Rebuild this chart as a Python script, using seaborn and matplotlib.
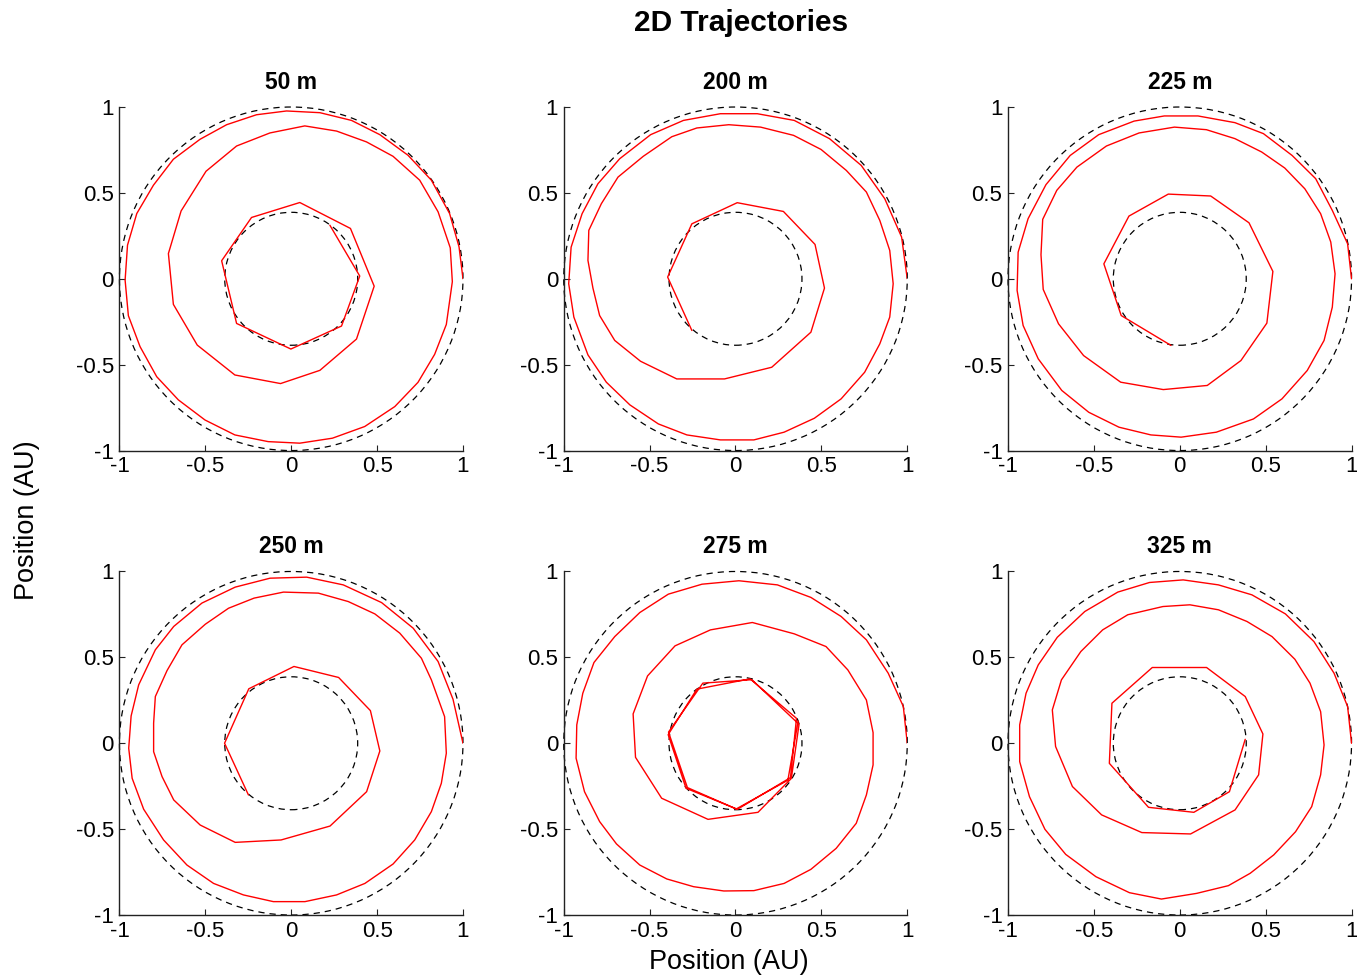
import matplotlib
matplotlib.use('Agg')
import matplotlib.pyplot as plt
from matplotlib.patches import Circle
import seaborn as sns

# Titulos de cada panel y datos comunes
titles = ['50 m', '200 m', '225 m', '250 m', '275 m', '325 m']
orbit_radii = [1.0, 0.387]  # orbitas de referencia (AU)
ticks = [-1, -0.5, 0, 0.5, 1]
tick_labels = ['-1', '-0.5', '0', '0.5', '1']

# Trayectorias (AU)
x_50 = [1.000, 0.977, 0.922, 0.816, 0.680, 0.516, 0.351, 0.167, -0.027, -0.202, -0.376, -0.531, -0.686, -0.802, -0.899, -0.953,
        -0.967, -0.948, -0.880, -0.783, -0.657, -0.502, -0.328, -0.134, 0.050, 0.240, 0.428, 0.603, 0.738, 0.835, 0.903, 0.938,
        0.926, 0.855, 0.748, 0.593, 0.438, 0.264, 0.079, -0.124, -0.318, -0.496, -0.641, -0.715, -0.686, -0.547, -0.328, -0.062,
        0.167, 0.380, 0.483, 0.345, 0.050, -0.231, -0.405, -0.318, -0.002, 0.293, 0.399, 0.225]
y_50 = [0.000, 0.186, 0.380, 0.574, 0.719, 0.839, 0.922, 0.967, 0.977, 0.955, 0.897, 0.812, 0.696, 0.545, 0.380, 0.196,
        -0.008, -0.215, -0.395, -0.570, -0.705, -0.822, -0.909, -0.948, -0.957, -0.928, -0.860, -0.744, -0.603, -0.440, -0.266, -0.017,
        0.180, 0.390, 0.574, 0.713, 0.797, 0.860, 0.890, 0.849, 0.773, 0.626, 0.395, 0.147, -0.149, -0.386, -0.560, -0.610,
        -0.533, -0.351, -0.043, 0.293, 0.444, 0.357, 0.105, -0.260, -0.409, -0.275, 0.016, 0.312]

x_200 = [1.000, 0.967, 0.869, 0.732, 0.547, 0.342, 0.127, -0.088, -0.303, -0.494, -0.674, -0.801, -0.893, -0.957, -0.971, -0.941,
         -0.859, -0.752, -0.615, -0.449, -0.283, -0.088, 0.107, 0.283, 0.459, 0.615, 0.752, 0.840, 0.898, 0.918, 0.898, 0.840,
         0.762, 0.645, 0.498, 0.338, 0.146, -0.039, -0.225, -0.371, -0.537, -0.684, -0.781, -0.854, -0.859, -0.830, -0.791, -0.703,
         -0.553, -0.342, -0.064, 0.211, 0.439, 0.518, 0.463, 0.279, 0.010, -0.254, -0.395, -0.254]
y_200 = [0.000, 0.243, 0.466, 0.660, 0.816, 0.922, 0.961, 0.961, 0.922, 0.839, 0.699, 0.553, 0.379, 0.184, -0.029, -0.223,
         -0.443, -0.602, -0.734, -0.845, -0.909, -0.938, -0.938, -0.893, -0.812, -0.699, -0.544, -0.379, -0.223, -0.029, 0.165, 0.340,
         0.505, 0.631, 0.753, 0.835, 0.883, 0.897, 0.878, 0.827, 0.713, 0.592, 0.437, 0.282, 0.107, -0.054, -0.214, -0.359,
         -0.480, -0.583, -0.583, -0.515, -0.311, -0.054, 0.200, 0.392, 0.443, 0.320, 0.010, -0.301]

x_225 = [1.000, 0.977, 0.888, 0.791, 0.654, 0.487, 0.321, 0.106, -0.090, -0.266, -0.472, -0.638, -0.779, -0.883, -0.941, -0.947,
         -0.912, -0.824, -0.687, -0.530, -0.354, -0.168, 0.008, 0.213, 0.429, 0.595, 0.742, 0.840, 0.888, 0.904, 0.879, 0.820,
         0.728, 0.611, 0.477, 0.321, 0.155, -0.031, -0.237, -0.427, -0.599, -0.716, -0.798, -0.808, -0.795, -0.706, -0.560, -0.344,
         -0.096, 0.160, 0.356, 0.507, 0.542, 0.403, 0.180, -0.067, -0.296, -0.442, -0.341, -0.051]
y_225 = [0.000, 0.204, 0.398, 0.583, 0.718, 0.845, 0.909, 0.948, 0.948, 0.918, 0.839, 0.718, 0.548, 0.350, 0.155, -0.068,
         -0.272, -0.466, -0.650, -0.777, -0.864, -0.909, -0.922, -0.893, -0.816, -0.699, -0.534, -0.359, -0.165, 0.029, 0.214, 0.379,
         0.524, 0.645, 0.738, 0.816, 0.868, 0.883, 0.849, 0.773, 0.650, 0.515, 0.346, 0.140, -0.062, -0.262, -0.447, -0.602,
         -0.645, -0.621, -0.476, -0.258, 0.043, 0.326, 0.482, 0.493, 0.365, 0.087, -0.214, -0.388]

x_250 = [1.000, 0.942, 0.855, 0.710, 0.526, 0.303, 0.090, -0.123, -0.326, -0.520, -0.684, -0.791, -0.888, -0.932, -0.946, -0.926,
         -0.859, -0.743, -0.607, -0.452, -0.278, -0.104, 0.080, 0.264, 0.429, 0.593, 0.719, 0.816, 0.874, 0.903, 0.893, 0.816,
         0.758, 0.632, 0.487, 0.332, 0.158, -0.045, -0.216, -0.365, -0.500, -0.636, -0.723, -0.791, -0.801, -0.801, -0.752, -0.684,
         -0.530, -0.326, -0.059, 0.226, 0.439, 0.516, 0.461, 0.276, 0.016, -0.247, -0.388, -0.249]
y_250 = [0.000, 0.256, 0.476, 0.670, 0.819, 0.922, 0.967, 0.961, 0.909, 0.816, 0.680, 0.544, 0.340, 0.159, -0.029, -0.204,
         -0.384, -0.563, -0.709, -0.816, -0.883, -0.922, -0.922, -0.883, -0.816, -0.703, -0.563, -0.398, -0.233, -0.058, 0.155, 0.369,
         0.495, 0.641, 0.753, 0.825, 0.874, 0.880, 0.845, 0.786, 0.693, 0.573, 0.423, 0.272, 0.117, -0.049, -0.194, -0.330,
         -0.476, -0.577, -0.563, -0.482, -0.282, -0.045, 0.190, 0.383, 0.447, 0.317, 0.000, -0.301]

x_275 = [1.000, 0.977, 0.889, 0.762, 0.615, 0.439, 0.244, 0.020, -0.195, -0.391, -0.557, -0.703, -0.824, -0.889, -0.924, -0.928,
         -0.879, -0.791, -0.693, -0.557, -0.400, -0.244, -0.068, 0.107, 0.283, 0.439, 0.586, 0.703, 0.762, 0.801, 0.801, 0.762,
         0.654, 0.527, 0.342, 0.098, -0.146, -0.352, -0.512, -0.596, -0.582, -0.430, -0.160, 0.131,
         0.325, 0.370, 0.095, -0.190, -0.390, -0.280, 0.010, 0.320, 0.355, 0.085, -0.225, -0.392, -0.288, 0.005, 0.305, 0.365]
y_275 = [0.000, 0.214, 0.408, 0.602, 0.738, 0.849, 0.922, 0.946, 0.926, 0.868, 0.761, 0.621, 0.470, 0.291, 0.107, -0.087,
         -0.282, -0.456, -0.586, -0.709, -0.790, -0.835, -0.860, -0.858, -0.816, -0.734, -0.612, -0.466, -0.301, -0.126, 0.062, 0.252,
         0.427, 0.563, 0.637, 0.703, 0.660, 0.567, 0.392, 0.171, -0.082, -0.320, -0.443, -0.402,
         -0.205, 0.110, 0.370, 0.350, 0.065, -0.258, -0.385, -0.200, 0.145, 0.375, 0.315, 0.050, -0.262, -0.382, -0.215, 0.130]

x_325 = [1.000, 0.977, 0.898, 0.781, 0.615, 0.420, 0.225, 0.020, -0.176, -0.361, -0.553, -0.713, -0.824, -0.895, -0.932, -0.932,
         -0.875, -0.785, -0.664, -0.488, -0.293, -0.107, 0.098, 0.283, 0.410, 0.547, 0.674, 0.768, 0.820, 0.840, 0.820, 0.758,
         0.670, 0.537, 0.391, 0.225, 0.059, -0.098, -0.303, -0.449, -0.576, -0.689, -0.742, -0.723, -0.625, -0.455, -0.221, 0.063,
         0.322, 0.459, 0.484, 0.381, 0.156, -0.160, -0.395, -0.410, -0.182, 0.082, 0.289, 0.381]
y_325 = [0.000, 0.214, 0.408, 0.592, 0.753, 0.864, 0.922, 0.951, 0.936, 0.880, 0.767, 0.617, 0.456, 0.291, 0.107, -0.107,
         -0.311, -0.501, -0.647, -0.777, -0.870, -0.907, -0.874, -0.829, -0.757, -0.650, -0.515, -0.369, -0.184, -0.010, 0.184, 0.350,
         0.489, 0.621, 0.709, 0.777, 0.806, 0.796, 0.748, 0.660, 0.534, 0.369, 0.194, -0.019, -0.252, -0.417, -0.520, -0.528,
         -0.388, -0.184, 0.054, 0.272, 0.441, 0.441, 0.233, -0.117, -0.373, -0.402, -0.282, 0.023]

trayectorias = [(x_50, y_50), (x_200, y_200), (x_225, y_225),
                (x_250, y_250), (x_275, y_275), (x_325, y_325)]

sns.set_style('ticks')
plt.rcParams['font.family'] = ['Liberation Sans', 'DejaVu Sans']
plt.rcParams['text.color'] = 'black'

fig, axes = plt.subplots(2, 3, figsize=(13.57, 9.8), dpi=100)
fig.subplots_adjust(left=0.0877, right=0.9963, bottom=0.0663, top=0.8908,
                    wspace=0.29, hspace=0.352)

for ax, titulo, (xs, ys) in zip(axes.flat, titles, trayectorias):
    # Orbitas de referencia
    for r in orbit_radii:
        ax.add_patch(Circle((0, 0), r, fill=False, color='black', lw=0.9,
                            ls=(0, (5, 4)), clip_on=False))
    # Trayectoria
    sns.lineplot(x=xs, y=ys, sort=False, estimator=None, color='red', lw=1.0, ax=ax)

    ax.set_xlim(-1, 1)
    ax.set_ylim(-1, 1)
    ax.set_aspect('equal', adjustable='box')
    ax.set_xticks(ticks)
    ax.set_yticks(ticks)
    ax.set_xticklabels(tick_labels)
    ax.set_yticklabels(tick_labels)
    ax.tick_params(direction='in', length=4, width=0.8, labelsize=16, pad=4, colors='#222222', labelcolor='black')
    ax.set_title(titulo, fontsize=16.5, fontweight='bold', pad=13, color='black')
    sns.despine(ax=ax)
    for lado in ['left', 'bottom']:
        ax.spines[lado].set_color('#222222')
        ax.spines[lado].set_linewidth(1.0)

fig.suptitle('2D Trajectories', x=0.5464, y=0.9765, va='center', fontsize=21.5, fontweight='bold', color='black')
fig.supxlabel('Position (AU)', x=0.537, y=0.018, va='center', fontsize=19.5, color='black')
fig.supylabel('Position (AU)', x=0.020, y=0.469, va='center', ha='center', fontsize=19.5, color='black')

plt.savefig('out.png', dpi=100)
